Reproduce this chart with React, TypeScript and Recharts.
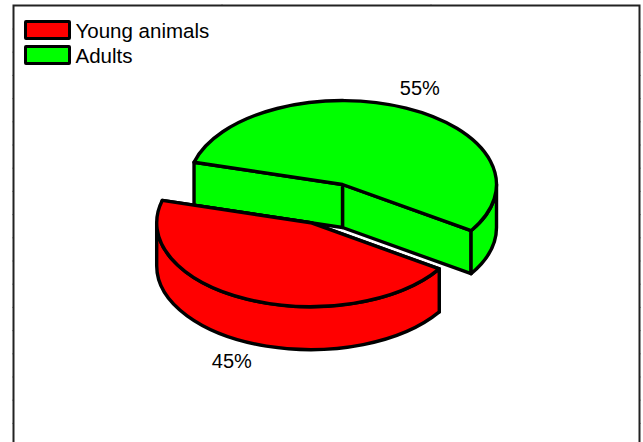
import { PieChart, Pie, Legend } from "recharts"

const categories = ["Adults", "Young animals"]
const shares = [55, 45]
const colors = ["#00ff00", "#ff0000"]
const explode = [0, 0.5]

const rows = categories.map((name, i) => ({
    name,
    value: shares[i],
    fill: colors[i],
    explode: explode[i],
}))

const WIDTH = 643
const HEIGHT = 442
const TILT = 0.545
const DEPTH = 43
const RADIAN = Math.PI / 180

// point on the tilted pie's rim
const rim = (cx: number, cy: number, r: number, deg: number) => [
    cx + r * Math.cos(deg * RADIAN),
    cy - r * TILT * Math.sin(deg * RADIAN),
]

const shifted = (props: any) => {
    const { cx, cy, outerRadius, midAngle } = props
    const e = props.payload?.explode ?? props.explode ?? 0
    const [x, y] = rim(cx, cy, outerRadius * e, midAngle)
    return [x, y]
}

// parts of an arc that face the viewer (lower half of the ellipse)
const frontArcs = (start: number, end: number) => {
    const arcs: number[][] = []
    for (let k = -1; k <= 1; k++) {
        const a = Math.max(start, 180 + 360 * k)
        const b = Math.min(end, 360 + 360 * k)
        if (b > a) arcs.push([a, b])
    }
    return arcs
}

const Slice3D = (props: any) => {
    const { outerRadius: r, startAngle, endAngle, fill } = props
    const [cx, cy] = shifted(props)
    const [sx, sy] = rim(cx, cy, r, startAngle)
    const [ex, ey] = rim(cx, cy, r, endAngle)
    const ry = r * TILT
    const large = endAngle - startAngle > 180 ? 1 : 0
    const line = { fill, stroke: "#000", strokeWidth: 3.4, strokeLinejoin: "round" as const }
    return (
        <g>
            <path {...line} d={`M${cx},${cy}L${sx},${sy}v${DEPTH}L${cx},${cy + DEPTH}Z`} />
            <path {...line} d={`M${cx},${cy}L${ex},${ey}v${DEPTH}L${cx},${cy + DEPTH}Z`} />
            {frontArcs(startAngle, endAngle).map(([a, b]) => {
                const [ax, ay] = rim(cx, cy, r, a)
                const [bx, by] = rim(cx, cy, r, b)
                return (
                    <path key={a} {...line}
                        d={`M${ax},${ay}A${r},${ry} 0 0 0 ${bx},${by}v${DEPTH}A${r},${ry} 0 0 1 ${ax},${ay + DEPTH}Z`} />
                )
            })}
            <path {...line} d={`M${cx},${cy}L${sx},${sy}A${r},${ry} 0 ${large} 0 ${ex},${ey}Z`} />
        </g>
    )
}

const renderLabel = (props: any) => {
    const { outerRadius, midAngle, percent } = props
    const [cx, cy] = shifted(props)
    const [x, y] = rim(cx, cy, outerRadius * 1.24, midAngle)
    const front = Math.sin(midAngle * RADIAN) < 0
    return (
        <text x={front ? x : x - 1.5} y={front ? y + DEPTH + 1 : y - 1.5} fill="#000" stroke="none"
            textAnchor="middle" dominantBaseline="central" fontSize={20}>
            {`${Math.round(percent * 100)}%`}
        </text>
    )
}

const renderLegend = ({ payload }: any) => (
    <div>
        {[...(payload ?? [])].reverse().map((item: any) => (
            <div key={item.value} style={{ display: "flex", alignItems: "center", height: 25 }}>
                <span style={{
                    display: "block", boxSizing: "border-box", width: 47, height: 20,
                    background: item.color, border: "3.4px solid #000", borderRadius: 2,
                }} />
                <span style={{ marginLeft: 5, fontSize: 20.5, lineHeight: "20px", color: "#000", position: "relative", top: 1 }}>
                    {item.value}
                </span>
            </div>
        ))}
    </div>
)

// plot frame with its small outward ticks; the lower edge runs off the page
const frameTicksY = Array.from({ length: 18 }, (_, i) => 29 + i * 23.2)
const frameTicksX = [222, 431]

const Frame = () => (
    <g>
        <path d="M13.5,442V5.5H639.5V442" fill="none" stroke="#222" strokeWidth={2} />
        {frameTicksY.map(y => (
            <path key={y} d={`M12,${y}H13M640,${y}H641`} stroke="#666" strokeWidth={1} />
        ))}
        {frameTicksX.map(x => (
            <path key={x} d={`M${x},4V5`} stroke="#666" strokeWidth={1} />
        ))}
    </g>
)

export default function App() {
    return (
        <div style={{
            position: "absolute", left: 0, top: 0, width: WIDTH, height: HEIGHT,
            fontFamily: "'Liberation Sans', Arial, sans-serif", background: "#fff",
        }}>
            <PieChart width={WIDTH} height={HEIGHT} margin={{ top: 0, right: 0, bottom: 0, left: 0 }}>
                <Frame />
                <Pie
                    data={rows}
                    dataKey="value"
                    nameKey="name"
                    cx={342.5}
                    cy={184.5}
                    outerRadius={154}
                    startAngle={-33.4}
                    endAngle={326.6}
                    stroke="#000"
                    shape={Slice3D}
                    label={renderLabel}
                    labelLine={false}
                    isAnimationActive={false}
                />
                <Legend
                    layout="vertical"
                    align="center"
                    verticalAlign="middle"
                    content={renderLegend}
                    wrapperStyle={{ left: 23.5, top: 17, width: 220, height: 50, bottom: "auto" }}
                />
            </PieChart>
        </div>
    )
}
